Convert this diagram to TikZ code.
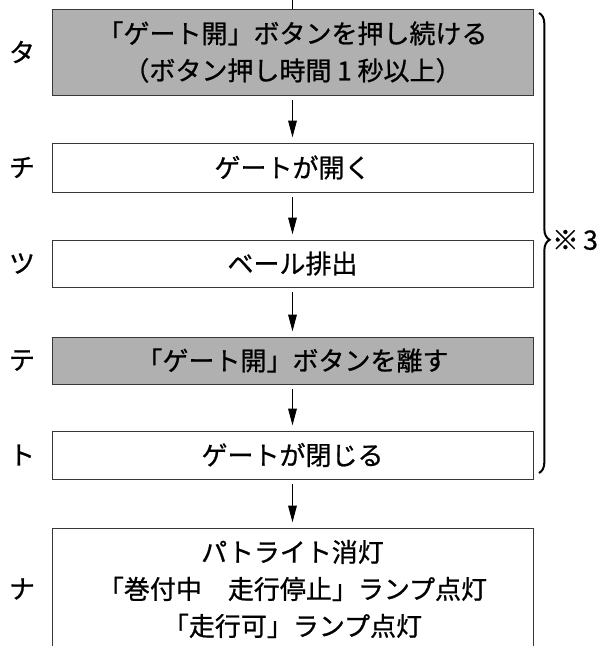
\documentclass[tikz,border=0pt]{standalone}
\usepackage{fontspec}
\setmainfont{Noto Sans CJK JP}[BoldFont=Noto Sans CJK JP, BoldFeatures={FakeBold=0.8}]
\definecolor{shade}{RGB}{176,176,176}
\definecolor{edge}{RGB}{55,55,55}
\usetikzlibrary{arrows.meta, positioning, decorations.pathreplacing}

\begin{document}
\begin{tikzpicture}[x=0.75pt, y=-0.75pt,
  every node/.style={font=\fontsize{19.5}{27.75}\selectfont\bfseries},
  stepbox/.style={draw=edge, line width=0.6pt, minimum width=360.75pt, inner sep=0pt, align=center},
  flow/.style={line width=0.7pt, shorten <=3.5pt, shorten >=4pt, -{Triangle[length=12.5pt, width=6.5pt]}}]
\useasboundingbox (0,0) rectangle (600,646);
\node[stepbox, fill=shade, minimum height=64.5pt] (press) at (292.5,52)
  {「ゲート開」ボタンを押し続ける\\（ボタン押し時間 1 秒以上）};
\node[stepbox, minimum height=36.75pt] (open) at (292.5,167.5) {ゲートが開く};
\node[stepbox, minimum height=35.25pt] (eject) at (292.5,263.5) {ベール排出};
\node[stepbox, fill=shade, minimum height=35.25pt] (release) at (292.5,360.5) {「ゲート開」ボタンを離す};
\node[stepbox, minimum height=36pt] (close) at (292.5,455) {ゲートが閉じる};
\node[stepbox, minimum height=91.5pt] (lamps) at (292.5,589)
  {パトライト消灯\\「巻付中　走行停止」ランプ点灯\\「走行可」ランプ点灯};
% step marks on the left
\node (kta) at (22,52) {タ};
\node (kchi) at (22,167.5) {チ};
\node (ktsu) at (22,263.5) {ツ};
\node (kte) at (22,360.5) {テ};
\node (kto) at (22,455) {ト};
\node (kna) at (22,589) {ナ};
% connectors
\coordinate (entry) at (292.5,0);
\draw[line width=0.7pt] (entry) -- (press);
\draw[flow] (press) -- (open);
\draw[flow] (open) -- (eject);
\draw[flow] (eject) -- (release);
\draw[flow] (release) -- (close);
\draw[flow] (close) -- (lamps);
% brace for steps タ to ト
\coordinate (bracetop) at (539,13);
\coordinate (bracebot) at (539,473);
\draw[line width=1.5pt, decorate, decoration={brace, amplitude=8pt, aspect=0.493}] (bracetop) -- (bracebot);
\node[font=\fontsize{20}{24}\selectfont\bfseries, inner sep=0pt] (note) at (575,240) {※\,3};
\end{tikzpicture}
\end{document}
